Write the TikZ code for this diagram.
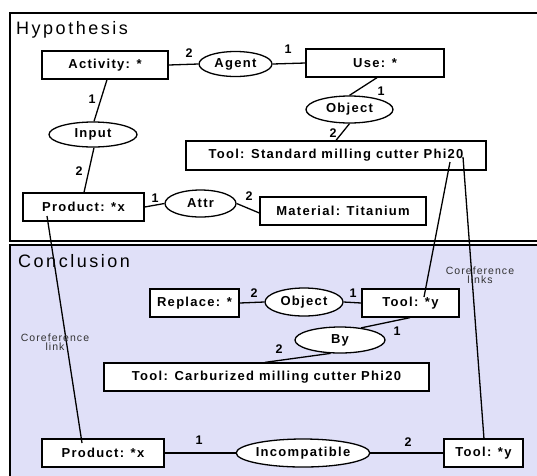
\documentclass[tikz,border=0pt]{standalone}
\usepackage{fontspec}
\setmainfont{Liberation Sans}
\newfontfamily\cgfont{Liberation Sans}[LetterSpace=10]
\newfontfamily\titlefont{Liberation Sans}[LetterSpace=14]
\newfontfamily\notefont{Liberation Sans}[LetterSpace=10]
\usetikzlibrary{shapes.geometric}
\definecolor{concbg}{RGB}{224,224,248}
\definecolor{notegray}{RGB}{50,50,50}
\tikzset{
  concept/.style={draw, fill=white, line width=1.3pt, rectangle, inner sep=0pt,
    minimum height=28pt, font=\cgfont\bfseries\fontsize{13}{15}\selectfont},
  relation/.style={draw, fill=white, line width=1.3pt, ellipse, inner sep=0pt,
    font=\cgfont\bfseries\fontsize{13}{15}\selectfont},
  arc/.style={line width=1.3pt},
  argnum/.style={inner sep=0pt, font=\bfseries\fontsize{12.5}{14}\selectfont},
  frame/.style={line width=1.7pt},
  ctxtitle/.style={anchor=base west, inner sep=0pt, font=\titlefont\fontsize{18}{20}\selectfont},
  corefnote/.style={align=center, inner sep=0pt, text=notegray,
    font=\notefont\fontsize{10.5}{11.5}\selectfont},
  coref/.style={line width=1.3pt}
}
\begin{document}
\begin{tikzpicture}[x=1pt, y=-1pt]
\useasboundingbox (0,0) rectangle (537,475);
\clip (0,0) rectangle (537,475);

% context frames
\draw[frame, fill=white] (10,13) rectangle (560,241);
\draw[frame, fill=concbg] (10,245) rectangle (560,500);
\node[ctxtitle] (hyptitle) at (16,34) {Hypothesis};
\node[ctxtitle] (contitle) at (18,267) {Conclusion};

% hypothesis graph
\node[concept, minimum width=126pt] (act) at (105,65) {Activity: *};
\node[relation, minimum width=73pt, minimum height=25pt] (agent) at (235.5,64) {Agent};
\node[concept, minimum width=138pt] (use) at (375,63) {Use: *};
\node[relation, minimum width=87pt, minimum height=27pt] (objh) at (349.5,109.5) {Object};
\node[relation, minimum width=88pt, minimum height=25pt] (input) at (93,134.5) {Input};
\node[concept, minimum width=300pt, minimum height=29pt] (toolstd) at (336,155.5) {Tool: Standard milling cutter Phi20};
\node[concept, minimum width=121pt] (prodh) at (83.5,207) {Product: *x};
\node[relation, minimum width=71pt, minimum height=27pt] (attr) at (200.5,203.5) {Attr};
\node[concept, minimum width=166pt] (mat) at (343,211) {Material: Titanium};

% conclusion graph
\node[concept, minimum width=89pt] (repl) at (194.5,303) {Replace: *};
\node[relation, minimum width=78pt, minimum height=28pt] (objc) at (304,302) {Object};
\node[concept, minimum width=97pt] (tooly) at (410.5,303) {Tool: *y};
\node[relation, minimum width=90pt, minimum height=26pt] (by) at (340,340) {By};
\node[concept, minimum width=325pt] (carb) at (266.5,377) {Tool: Carburized milling cutter Phi20};
\node[concept, minimum width=122pt] (prodc) at (103,453) {Product: *x};
\node[relation, minimum width=122pt, minimum height=28pt] (incomp) at (303,453) {Incompatible};
\node[concept, minimum width=79pt] (toolyc) at (483.5,453) {Tool: *y};

% arcs (hypothesis)
\draw[arc] (act.east) -- (agent.west);
\draw[arc] (agent.east) -- (use.west);
\draw[arc] (act.south -| 107,0) -- (input.north -| 94,0);
\draw[arc] (input.south -| 94,0) -- (prodh.north -| 84,0);
\draw[arc] (use.south -| 377,0) -- (objh.north);
\draw[arc] (objh.south) -- (toolstd.north -| 336,0);
\draw[arc] (prodh.east) -- (attr.west);
\draw[arc] (attr.east) -- (mat.west |- 0,213);

% arcs (conclusion)
\draw[arc] (repl.east) -- (objc.west);
\draw[arc] (objc.east) -- (tooly.west);
\draw[arc] (tooly.south -| 410,0) -- (by.30);
\draw[arc] (by.235) -- (carb.north -| 265,0);
\draw[arc] (prodc.east) -- (incomp.west);
\draw[arc] (incomp.east) -- (toolyc.west);

% argument numbers
\node[argnum] (n1) at (189,53) {2};
\node[argnum] (n2) at (288,49) {1};
\node[argnum] (n3) at (92,99) {1};
\node[argnum] (n4) at (79,171) {2};
\node[argnum] (n5) at (381,91) {1};
\node[argnum] (n6) at (333,133) {2};
\node[argnum] (n7) at (155,198) {1};
\node[argnum] (n8) at (249,196) {2};
\node[argnum] (n9) at (254,293) {2};
\node[argnum] (n10) at (353,293) {1};
\node[argnum] (n11) at (397,331) {1};
\node[argnum] (n12) at (279,349) {2};
\node[argnum] (n13) at (199,440) {1};
\node[argnum] (n14) at (408,442) {2};

% coreference links
\coordinate (cph) at (47,216);
\coordinate (cpc) at (82,443);
\coordinate (cta) at (450,162);
\coordinate (ctb) at (463,157);
\coordinate (cty) at (424,297);
\coordinate (ctc) at (484,439);
\draw[coref] (cph) -- (cpc);
\draw[coref] (cta) -- (cty);
\draw[coref] (ctb) -- (ctc);
\node[corefnote] (note1) at (55,342) {Coreference\\[-2pt]link};
\node[corefnote] (note2) at (480,275) {Coreference\\[-2pt]links};
\end{tikzpicture}
\end{document}
